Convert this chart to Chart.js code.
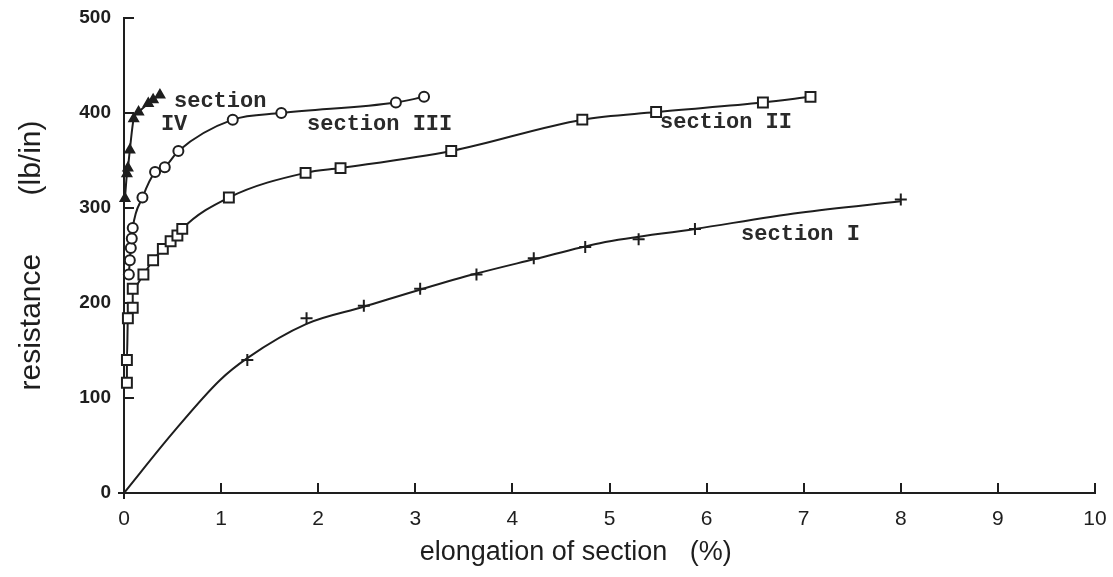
<!DOCTYPE html>
<html>
<head>
<meta charset="utf-8">
<script src="https://cdn.jsdelivr.net/npm/chart.js@4.4.1/dist/chart.umd.min.js"></script>
<style>
  html, body { margin: 0; padding: 0; background: #fff; }
  #wrap { width: 1113px; height: 577px; }
</style>
</head>
<body>
<div id="wrap"><canvas id="myChart" width="1113" height="577"></canvas></div>
<script>
// section I: measured points (+) and the fitted curve through them
const sec1X = [0, 1.27, 1.88, 2.47, 3.05, 3.63, 4.22, 4.75, 5.30, 5.88, 8.00];
const sec1Y = [0, 140, 184, 197, 215, 230, 247, 259, 267, 278, 309];
const sec1FitX = [0, 0.5, 0.99, 1.27, 1.88, 2.47, 3.08, 3.63, 4.22, 4.9, 5.88, 6.96, 8.0];
const sec1FitY = [0, 63, 119, 142, 178, 196, 215, 231, 246, 263, 278, 295, 307];

// section II (squares)
const sec2X = [0.03, 0.03, 0.04, 0.09, 0.09, 0.2, 0.3, 0.4, 0.48, 0.55, 0.6, 1.08, 1.87, 2.23, 3.37, 4.72, 5.48, 6.58, 7.07];
const sec2Y = [116, 140, 184, 195, 215, 230, 245, 257, 265, 271, 278, 311, 337, 342, 360, 393, 401, 411, 417];

// section III (circles)
const sec3X = [0.05, 0.06, 0.07, 0.08, 0.09, 0.19, 0.32, 0.42, 0.56, 1.12, 1.62, 2.8, 3.09];
const sec3Y = [230, 245, 258, 268, 279, 311, 338, 343, 360, 393, 400, 411, 417];

// section IV (triangles)
const sec4X = [0.01, 0.03, 0.04, 0.06, 0.1, 0.15, 0.25, 0.3, 0.37];
const sec4Y = [310, 336, 342, 361, 394, 401, 410, 414, 419];

const xTicks = [0, 1, 2, 3, 4, 5, 6, 7, 8, 9, 10];
const yTicks = [0, 100, 200, 300, 400, 500];

const ink = "#1e1e1e";

function pts(xs, ys) {
    return xs.map((x, i) => ({x: x, y: ys[i]}));
}

// curve labels, placed in data units
const curveLabels = [
    {text: "section", x: 0.515, y: 406},
    {text: "IV", x: 0.38, y: 382},
    {text: "section III", x: 1.885, y: 382},
    {text: "section II", x: 5.52, y: 384},
    {text: "section I", x: 6.355, y: 266},
];

const labelPlugin = {
    id: "curveLabels",
    afterDatasetsDraw(chart) {
        const ctx = chart.ctx;
        const xs = chart.scales.x, ys = chart.scales.y;
        ctx.save();
        ctx.font = "bold 22px 'Liberation Mono', monospace";
        ctx.fillStyle = "#2a2a2a";
        ctx.textAlign = "left";
        ctx.textBaseline = "alphabetic";
        curveLabels.forEach(l => {
            ctx.fillText(l.text, xs.getPixelForValue(l.x), ys.getPixelForValue(l.y));
        });
        ctx.restore();
    }
};

const lineBase = {
    showLine: true,
    borderColor: ink,
    borderWidth: 2,
    pointBorderColor: ink,
    pointBorderWidth: 2,
    cubicInterpolationMode: "monotone",
    clip: false,
};

const ctx = document.getElementById("myChart").getContext("2d");
new Chart(ctx, {
    type: "scatter",
    data: {
        datasets: [
            {
                ...lineBase,
                label: "section I fit",
                data: pts(sec1FitX, sec1FitY),
                pointRadius: 0,
            },
            {
                ...lineBase,
                label: "section I",
                data: pts(sec1X, sec1Y),
                showLine: false,
                pointStyle: "cross",
                pointRadius: 6,
            },
            {
                ...lineBase,
                label: "section II",
                data: pts(sec2X, sec2Y),
                pointStyle: "rect",
                pointRadius: 7,
                pointBackgroundColor: "#fff",
            },
            {
                ...lineBase,
                label: "section III",
                data: pts(sec3X, sec3Y),
                pointStyle: "circle",
                pointRadius: 5,
                pointBackgroundColor: "#fff",
            },
            {
                ...lineBase,
                label: "section IV",
                data: pts(sec4X, sec4Y),
                pointStyle: "triangle",
                pointRadius: 5,
                pointBackgroundColor: ink,
            },
        ],
    },
    options: {
        responsive: false,
        animation: false,
        devicePixelRatio: 1,
        layout: {padding: {left: 10, top: 18, right: 18, bottom: 0}},
        plugins: {
            legend: {display: false},
            tooltip: {enabled: false},
        },
        scales: {
            x: {
                type: "linear",
                min: 0,
                max: 10,
                afterBuildTicks: s => { s.ticks = xTicks.map(v => ({value: v})); },
                afterFit: s => {
                    s.height = 84;
                    s.paddingLeft = 0;
                    s.paddingRight = 0;
                },
                ticks: {
                    color: ink,
                    padding: 24,
                    font: {family: "'Liberation Sans', sans-serif", size: 21},
                },
                grid: {drawOnChartArea: false, tickLength: -10, color: ink, lineWidth: 2},
                border: {color: ink, width: 2},
                title: {
                    display: true,
                    // trailing spaces pull the centred title a little to the left
                    text: "elongation of section   (%)         ",
                    color: ink,
                    font: {family: "'Liberation Sans', sans-serif", size: 27},
                    padding: {top: 0, bottom: 8},
                },
            },
            y: {
                min: 0,
                max: 500,
                afterBuildTicks: s => { s.ticks = yTicks.map(v => ({value: v})); },
                afterFit: s => {
                    s.width = 114;
                    s.paddingTop = 0;
                    s.paddingBottom = 0;
                },
                ticks: {
                    color: ink,
                    padding: 23,
                    font: {family: "'Liberation Sans', sans-serif", size: 19, weight: "bold"},
                },
                grid: {drawOnChartArea: false, tickLength: -10, color: ink, lineWidth: 2},
                border: {color: ink, width: 2},
                title: {
                    display: true,
                    text: "resistance       (lb/in)",
                    color: ink,
                    font: {family: "'Liberation Sans', sans-serif", size: 30},
                    padding: {top: 4, bottom: 0},
                },
            },
        },
    },
    plugins: [labelPlugin],
});
</script>
</body>
</html>
